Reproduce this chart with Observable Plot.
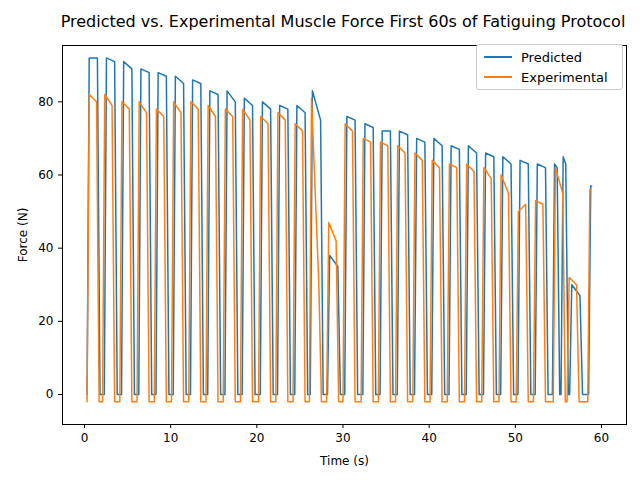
<!DOCTYPE html>
<html><head><meta charset="utf-8">
<script src="https://cdn.jsdelivr.net/npm/d3@7"></script>
<script src="https://cdn.jsdelivr.net/npm/@observablehq/plot@0.6"></script>
<style>
body{margin:0;font-family:"DejaVu Sans",sans-serif;background:#fff}
#wrap{position:relative;width:640px;height:480px}
#title{position:absolute;top:12px;left:0;width:686px;text-align:center;font-size:16px;white-space:nowrap}
#chart{position:absolute;top:34px;left:0}
#legend{position:absolute;left:476px;top:44px;width:145px;height:44px;border:1px solid #ccc;border-radius:3px;background:#fff;font-size:13px}
#legend div{display:flex;align-items:center;height:20px;margin-left:7px}
#legend span{display:inline-block;width:28px;height:2px;margin-right:9px}
</style></head><body>
<div id="wrap"><div id="title">Predicted vs. Experimental Muscle Force First 60s of Fatiguing Protocol</div>
<div id="chart"></div>
<div id="legend"><div style="margin-top:2px"><span style="background:#1f77b4"></span>Predicted</div><div><span style="background:#ff7f0e"></span>Experimental</div></div></div>
<script>
// per-cycle readings: rise start (s), peak, value at end of plateau
const predStart = [0.3,2.3,4.3,6.3,8.3,10.3,12.3,14.3,16.3,18.3,20.4,22.4,24.4,26.2,28.2,30.2,32.3,34.3,36.3,38.3,40.3,42.3,44.3,46.3,48.3,50.3,52.3,54.3,55.3,56.3,58.5];
const predPeak  = [92,92,91,89,88,87,86,83,83,81,80,79,79,83,38,76,74,72,72,70,70,68,68,66,65,64,63,63,65,30,57];
const predEnd   = [92,91,89,88,87,85,85,82,80,79,78,78,77,75,35,75,73,72,71,69,68,67,66,65,63,63,62,62,63,27,57];
const expStart  = [0.3,2.1,4.1,6.1,8.1,10.1,12.1,14.1,16.1,18.1,20.2,22.2,24.2,26.1,28.1,30.0,32.1,34.1,36.1,38.1,40.1,42.1,44.1,46.1,48.1,50.1,52.1,54.4,56.0,58.4];
const expPeak   = [82,82,80,80,78,80,80,79,78,78,76,77,74,81,47,74,70,69,68,66,64,63,63,62,60,50,53,62,32,56];
const expEnd    = [80,79,78,77,76,77,78,76,76,75,74,75,72,30,42,72,69,68,66,64,62,62,61,59,55,52,52,55,30,56];

function build(starts, peaks, ends, low, dur) {
  const pts = [];
  starts.forEach((t, i) => {
    const last = i === starts.length - 1;
    const d = i < starts.length - 1 ? Math.min(dur, starts[i + 1] - t - 0.45) : 0.3;
    pts.push({t, v: low});
    pts.push({t: t + 0.25, v: peaks[i]});
    pts.push({t: t + Math.max(d, 0.35), v: ends[i]});
    if (!last) pts.push({t: t + Math.max(d, 0.35) + 0.3, v: low});
  });
  return pts;
}
const pred = build(predStart, predPeak, predEnd, 0, 1.2);
const exp = build(expStart, expPeak, expEnd, -2, 1.1);

const plt = Plot.plot({
  width: 640, height: 446,
  marginLeft: 62, marginRight: 14, marginTop: 11, marginBottom: 56,
  style: {fontFamily: "DejaVu Sans", fontSize: "12px", color: "#000"},
  x: {domain: [-2.55, 62.9], ticks: [0,10,20,30,40,50,60], label: "Time (s)", labelArrow: "none", labelAnchor: "center", labelOffset: 40, tickSize: 4},
  y: {domain: [-8.2, 95.4], ticks: [0,20,40,60,80], label: "Force (N)", labelArrow: "none", labelAnchor: "center", labelOffset: 44, tickSize: 4},
  marks: [
    Plot.frame({stroke: "#000"}),
    Plot.line(pred, {x: "t", y: "v", stroke: "#1f77b4", strokeWidth: 1.5}),
    Plot.line(exp, {x: "t", y: "v", stroke: "#ff7f0e", strokeWidth: 1.5})
  ]
});
document.querySelector("#chart").append(plt);
</script></body></html>
